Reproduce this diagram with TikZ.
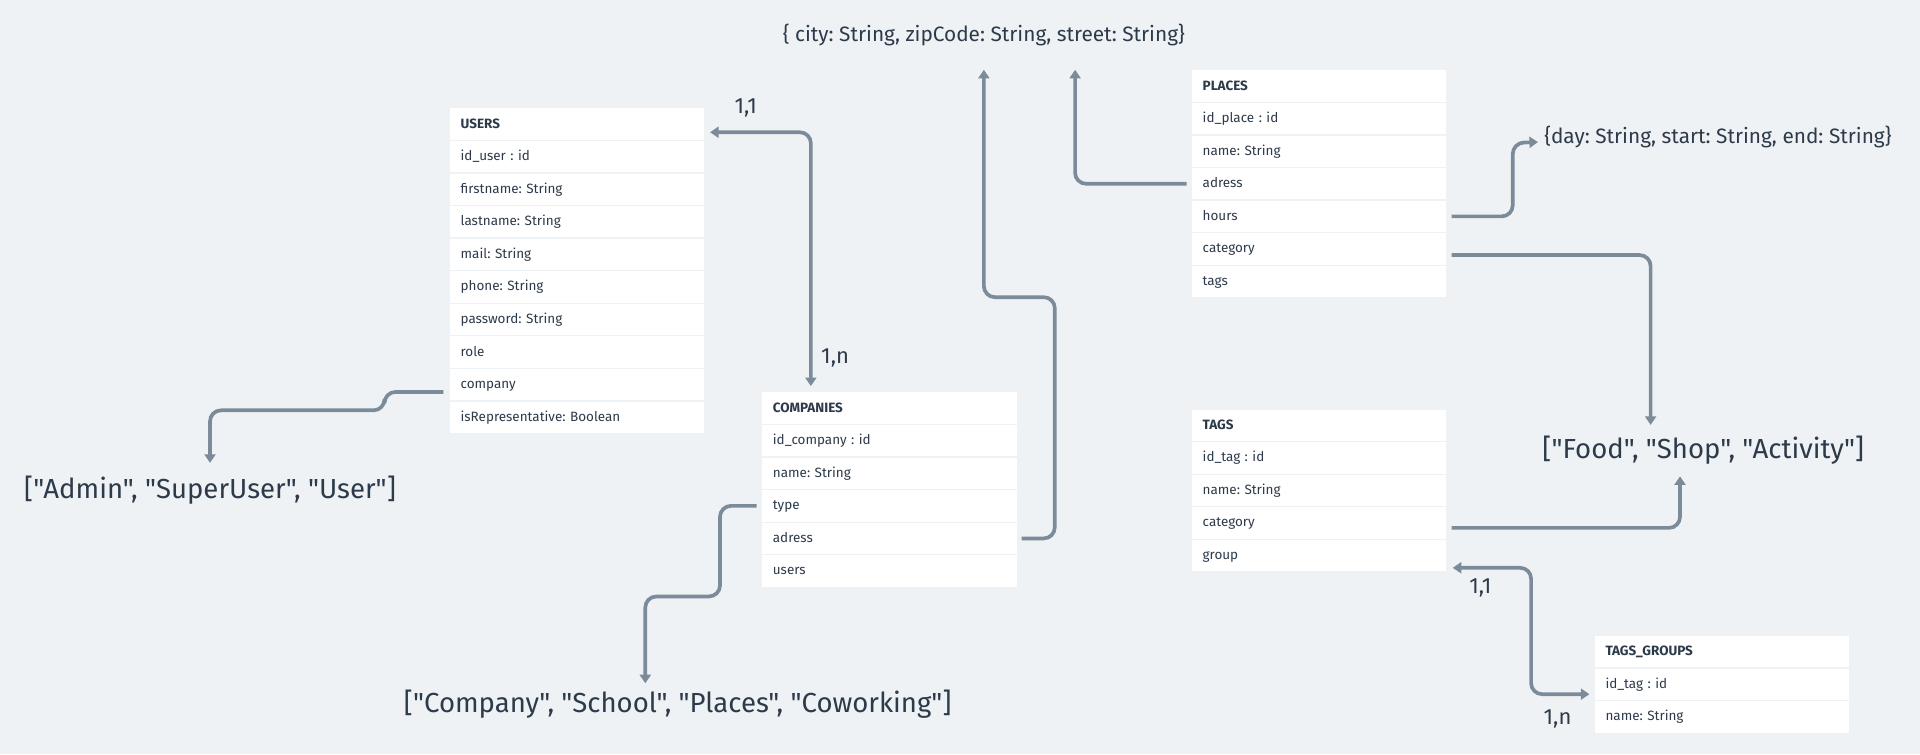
\documentclass[tikz,border=0pt]{standalone}
\usepackage{fontspec}
\setmainfont{Fira Sans}[Ligatures=TeXOff]
\usetikzlibrary{arrows.meta,positioning}
\definecolor{bgc}{HTML}{EFF2F5}
\definecolor{ink}{HTML}{2D3A4A}
\definecolor{wire}{HTML}{7B8B9A}
\frenchspacing
\tikzset{
  field/.style={anchor=west,fill=white,text=ink,font=\fontsize{11}{13}\selectfont,
    minimum height=25.6pt,inner xsep=9pt,inner ysep=0pt,text width=190pt,align=left,
    text height=0.7em,text depth=0.05em},
  head/.style={field,font=\fontsize{11}{13}\selectfont\bfseries},
  enum/.style={text=ink,inner sep=0pt,font=\fontsize{22.5}{27}\selectfont},
  struct/.style={text=ink,inner sep=0pt,font=\fontsize{17}{20}\selectfont},
  card/.style={text=ink,inner sep=0pt,font=\fontsize{18}{21}\selectfont},
  link/.style={draw=wire,line width=3pt,rounded corners=9pt,->},
  >={Triangle[width=9pt,length=7pt]},
}
\begin{document}
\begin{tikzpicture}[x=1pt,y=-1pt]
\fill[bgc] (0,0) rectangle (1568,616);
\useasboundingbox (0,0) rectangle (1568,616);

% tables
\node[head] (users-0) at (367,101.3) {USERS};
\foreach \txt [count=\i] in {id\_user : id,firstname: String,lastname: String,mail: String,
    phone: String,password: String,role,company,isRepresentative: Boolean}
  \node[field] (users-\i) at (367,{101.3+26.6*\i}) {\txt};

\node[head] (comp-0) at (622,333.3) {COMPANIES};
\foreach \txt [count=\i] in {id\_company : id,name: String,type,adress,users}
  \node[field] (comp-\i) at (622,{333.3+26.6*\i}) {\txt};

\node[head] (places-0) at (973,70.3) {PLACES};
\foreach \txt [count=\i] in {id\_place : id,name: String,adress,hours,category,tags}
  \node[field] (places-\i) at (973,{70.3+26.6*\i}) {\txt};

\node[head] (tags-0) at (973,347.3) {TAGS};
\foreach \txt [count=\i] in {id\_tag : id,name: String,category,group}
  \node[field] (tags-\i) at (973,{347.3+26.6*\i}) {\txt};

\node[head] (groups-0) at (1302,532.3) {TAGS\_GROUPS};
\foreach \txt [count=\i] in {id\_tag : id,name: String}
  \node[field] (groups-\i) at (1302,{532.3+26.6*\i}) {\txt};

% value types
\node[enum] (roles) at (171.5,400) {["Admin", "SuperUser", "User"]};
\node[enum] (types) at (553.5,575) {["Company", "School", "Places", "Coworking"]};
\node[enum] (cats) at (1391,368) {["Food", "Shop", "Activity"]};
\node[struct] (addr) at (803.5,29) {\{ city: String, zipCode: String, street: String\}};
\node[struct,anchor=west] (hours) at (1261,112) {\{day: String, start: String, end: String\}};

% cardinalities
\node[card] (c-u) at (609,88) {1,1};
\node[card] (c-c) at (682,292) {1,n};
\node[card] (c-t) at (1209,480) {1,1};
\node[card] (c-g) at (1272,587) {1,n};

% links
\draw[link,<->]
  ([xshift=4.5pt,yshift=-6.7pt]users-0.east) -| ([xshift=-64pt,yshift=5pt]comp-0.north);
\draw[link] ([xshift=-5pt,yshift=-6pt]users-8.west) -| ++(-48,15) -| ([yshift=22pt]roles.center);
\draw[link] ([xshift=-4pt]comp-3.west) -| ++(-30,74) -| ([xshift=-26.5pt,yshift=17pt]types.center);
\draw[link] ([xshift=4pt]comp-4.east) -| ++(27,-197) -| ([yshift=-28pt]addr.center);
\draw[link] ([xshift=-4pt]places-3.west) -| ([xshift=74.5pt,yshift=-28pt]addr.center);
\draw[link] ([xshift=4pt]places-4.east) -| ++(50,-60) -- ([xshift=-5pt,yshift=-4pt]hours.west);
\draw[link] ([xshift=4pt,yshift=-5pt]places-5.east) -| ([xshift=-43pt,yshift=21pt]cats.center);
\draw[link] ([xshift=4pt,yshift=-4pt]tags-3.east) -| ([xshift=-19pt,yshift=-21pt]cats.center);
\draw[link,<->]
  ([xshift=5pt,yshift=-10pt]tags-4.east) -- ++(64,0) |- ([xshift=-4pt,yshift=-8pt]groups-1.west);
\end{tikzpicture}
\end{document}
